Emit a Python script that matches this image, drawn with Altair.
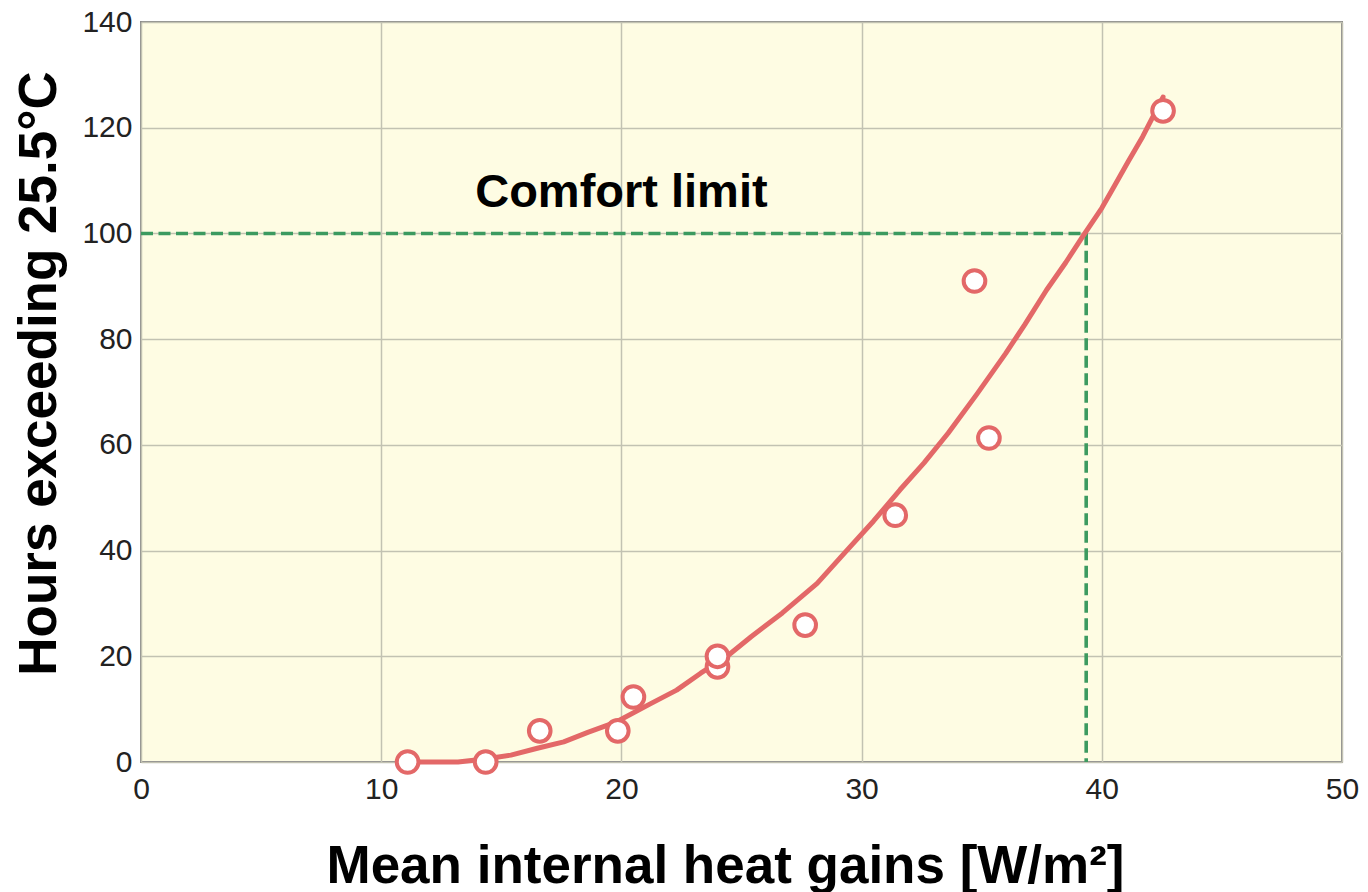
import altair as alt
import pandas as pd

# Measured points
pts_x = [11.1, 14.35, 16.6, 19.85, 20.5, 24.0, 24.0, 27.65, 31.4, 34.7, 35.3, 42.55]
pts_y = [0.0, 0.0, 5.9, 5.9, 12.3, 18.0, 20.0, 25.9, 46.7, 91.0, 61.3, 123.2]

# Fitted curve
curve_x = [11.1, 13.2, 14.4, 15.4, 16.5, 17.6, 18.6, 19.8, 21.2, 22.3, 23.3, 24.4,
           25.4, 26.7, 28.15, 29.5, 30.5, 31.6, 32.6, 33.6, 34.8, 36.0, 36.8,
           37.7, 38.5, 39.2, 40.0, 40.5, 41.1, 41.7, 42.55]
curve_y = [0.0, 0.0, 0.6, 1.3, 2.6, 3.8, 5.6, 7.6, 11.0, 13.6, 16.8, 20.0,
           23.7, 28.2, 33.8, 40.6, 45.6, 51.5, 56.6, 62.2, 69.6, 77.3, 82.8,
           89.3, 94.5, 99.4, 104.8, 108.8, 113.6, 118.3, 125.8]

# Comfort limit guide
limit_x = [0.0, 39.35, 39.35]
limit_y = [100.0, 100.0, 0.0]
limit_order = [0, 1, 2]

label_text = ["Comfort limit"]
label_x = [20.0]
label_y = [105.0]

x_ticks = [0, 10, 20, 30, 40, 50]
y_ticks = [0, 20, 40, 60, 80, 100, 120, 140]

FONT = "Liberation Sans"
RED = "#E36868"
GREEN = "#3C9A60"

pts = pd.DataFrame({"x": pts_x, "y": pts_y})
curve = pd.DataFrame({"x": curve_x, "y": curve_y})
limit = pd.DataFrame({"x": limit_x, "y": limit_y, "o": limit_order})
label = pd.DataFrame({"x": label_x, "y": label_y, "t": label_text})

xscale = alt.Scale(domain=[0, 50], nice=False)
yscale = alt.Scale(domain=[0, 140], nice=False)

xaxis = alt.Axis(
    title="Mean internal heat gains [W/m²]",
    values=x_ticks, format="d", ticks=False, domain=False,
    labelFont=FONT, labelFontSize=30, labelColor="#222222", labelPadding=12,
    labelFlush=False,
    titleFont=FONT, titleFontSize=53, titleFontWeight="bold", titleColor="#000000",
    titleBaseline="alphabetic", titleAlign="center", titleX=584, titleY=120,
    grid=True, gridColor="#c2c2b2", gridWidth=1.5,
)
yaxis = alt.Axis(
    title="Hours exceeding 25.5°C",
    values=y_ticks, format="d", ticks=False, domain=False,
    labelFont=FONT, labelFontSize=30, labelColor="#222222", labelPadding=9,
    labelFlush=False,
    titleFont=FONT, titleFontSize=53, titleFontWeight="bold", titleColor="#000000",
    titleBaseline="alphabetic", titleAlign="center", titleAngle=270,
    titleX=-86, titleY=351,
    grid=True, gridColor="#c2c2b2", gridWidth=1.5,
)

line = alt.Chart(curve).mark_line(
    color=RED, strokeWidth=5, strokeCap="round", strokeJoin="round"
).encode(
    x=alt.X("x:Q", scale=xscale, axis=xaxis),
    y=alt.Y("y:Q", scale=yscale, axis=yaxis),
)

guide = alt.Chart(limit).mark_line(
    color=GREEN, strokeWidth=3.6, strokeDash=[12, 5.5]
).encode(
    x=alt.X("x:Q", scale=xscale),
    y=alt.Y("y:Q", scale=yscale),
    order="o:Q",
)

points = alt.Chart(pts).mark_circle(
    size=470, fill="white", stroke=RED, strokeWidth=4, opacity=1
).encode(
    x=alt.X("x:Q", scale=xscale),
    y=alt.Y("y:Q", scale=yscale),
)

text = alt.Chart(label).mark_text(
    font=FONT, fontSize=47, fontWeight="bold", color="#000000",
    align="center", baseline="alphabetic"
).encode(
    x=alt.X("x:Q", scale=xscale),
    y=alt.Y("y:Q", scale=yscale),
    text="t:N",
)

chart = alt.layer(guide, line, points, text).properties(
    width=1201, height=740,
    padding={"left": 133, "top": 14, "right": 18, "bottom": 130},
    autosize=alt.AutoSizeParams(type="none"),
    background="white",
).configure_view(
    fill="#FEFCE3", stroke="#8a8a8a", strokeWidth=2
)

chart.save("out.html", embed_options={"renderer": "svg", "actions": False})
